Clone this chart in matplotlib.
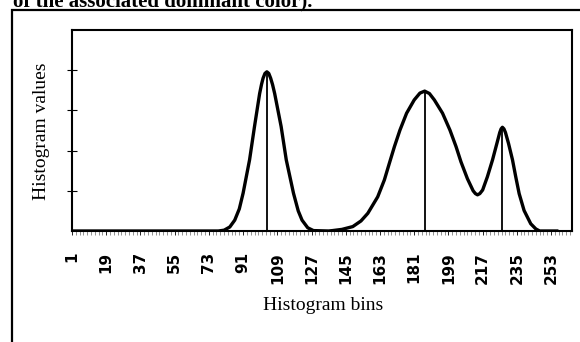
import matplotlib.pyplot as plt
import numpy as np
from matplotlib.patches import Rectangle

# values (bin, histogram value)
bins = [1, 78, 81, 84, 86.6, 89, 91, 94.4, 97, 99.7, 100.7, 101.5, 102.5, 103.5,
        104.5, 105.5, 106.5, 107.6, 111, 113.7, 117.5, 120, 122, 125, 128, 136,
        138, 143, 148.7, 153, 156.6, 161.8, 165.3, 167.9, 170.6, 173.5, 177, 181,
        184, 186.5, 189, 191.6, 195.9, 199.8, 203, 205.6, 209, 212, 213.2, 214.3,
        215.5, 217, 219.5, 222.2, 224.5, 226, 226.7, 227.4, 228.2, 229, 230.6,
        232.7, 234.4, 236.2, 238.8, 242.3, 245, 247, 256]
values = [0, 0, 0.02, 0.1, 0.27, 0.55, 0.94, 1.77, 2.6, 3.42, 3.65, 3.8, 3.92, 3.96,
          3.92, 3.8, 3.64, 3.42, 2.6, 1.77, 0.94, 0.5, 0.27, 0.08, 0.01, 0,
          0.01, 0.04, 0.11, 0.25, 0.44, 0.85, 1.27, 1.68, 2.1, 2.51, 2.93, 3.26,
          3.43, 3.48, 3.42, 3.26, 2.93, 2.51, 2.1, 1.72, 1.3, 1.0, 0.93, 0.9,
          0.93, 1.02, 1.35, 1.77, 2.18, 2.45, 2.54, 2.58, 2.54, 2.45, 2.18,
          1.77, 1.35, 0.93, 0.51, 0.18, 0.05, 0, 0]

# dominant colours (peak positions)
peak_bins = [103.5, 186.5, 227.4]
peak_vals = [3.96, 3.48, 2.58]

tick_bins = list(range(1, 254, 18))

fig = plt.figure(figsize=(5.8, 3.42), dpi=100)

# outer frame of the scanned figure
fig.patches.append(Rectangle((12 / 580, -0.1), 1.0, 1.1 - 10.5 / 342,
                             transform=fig.transFigure, fill=False,
                             edgecolor='black', linewidth=1.6))
fig.text(13 / 580, 1 - 6.5 / 342, 'of the associated dominant color).',
         family='Liberation Serif', weight='bold', fontsize=15, va='baseline')

ax = fig.add_axes([72 / 580, 111 / 342, 500 / 580, 201 / 342])
ax.plot(bins, values, color='black', linewidth=2.4, solid_joinstyle='round')
ax.vlines(peak_bins, 0, peak_vals, color='black', linewidth=1.3)

ax.set_xlim(1, 264)
ax.set_ylim(0, 5)
ax.set_xticks(tick_bins)
ax.set_xticklabels([str(b) for b in tick_bins], rotation=90,
                   family='DejaVu Sans', weight='bold', fontsize=11)
ax.set_xticks(np.arange(1, 264, 2), minor=True)
ax.tick_params(axis='x', which='major', length=3, width=0.6, pad=12, direction='out')
ax.tick_params(axis='x', which='minor', length=3, width=0.5, color='0.4', direction='out')
ax.set_yticks([1, 2, 3, 4])
ax.set_yticklabels([])
ax.tick_params(axis='y', length=7, width=0.8, direction='inout')
for s in ax.spines.values():
    s.set_linewidth(1.5)

fig.text(42 / 580, 1 - 131 / 342, 'Histogram values', family='Liberation Serif',
         fontsize=14, rotation=90, ha='center', va='center')
fig.text(323 / 580, 1 - 306 / 342, 'Histogram bins', family='Liberation Serif',
         fontsize=14, ha='center', va='center')

fig.savefig('out.png', dpi=100)
